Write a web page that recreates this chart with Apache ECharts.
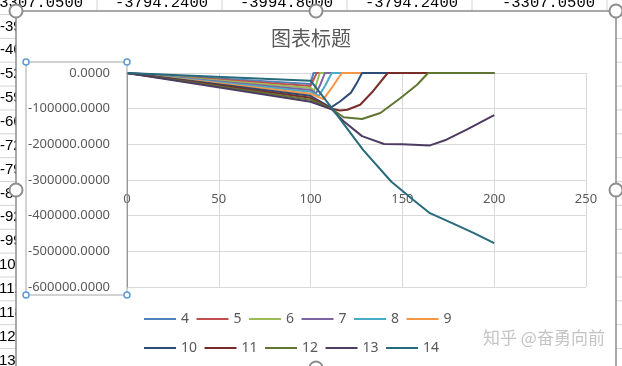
<!DOCTYPE html>
<html><head><meta charset="utf-8">
<script src="https://cdn.jsdelivr.net/npm/echarts@6/dist/echarts.min.js"></script>
<style>html,body{margin:0;padding:0;background:#fff}#c{width:622px;height:366px}</style>
</head><body><div id="c"></div>
<script>
// ---- data ----
const seriesNames = ['4','5','6','7','8','9','10','11','12','13','14'];
const s4  = [[0,0],[100,-30800],[101.5,0],[200,0]];
const s5  = [[0,0],[100,-36300],[101,-39000],[103.3,0],[200,0]];
const s6  = [[0,0],[100,-41800],[102,-49000],[105,0],[200,0]];
const s7  = [[0,0],[100,-47400],[103,-57000],[105.5,-30000],[107.8,0],[200,0]];
const s8  = [[0,0],[100,-52900],[104.5,-64000],[108,-35000],[111.5,0],[200,0]];
const s9  = [[0,0],[100,-58400],[107,-73000],[112,-38000],[117,0],[200,0]];
const s10 = [[0,0],[100,-63900],[111,-97000],[116,-80000],[122,-55000],[125.5,-25000],[128,0],[200,0]];
const s11 = [[0,0],[100,-69500],[111.5,-100000],[116,-105000],[120,-103000],[127,-89000],[134,-51000],[142,0],[200,0]];
const s12 = [[0,0],[100,-75000],[111.5,-101000],[118,-124000],[128,-129000],[138,-112000],[149,-70000],[158,-33000],[164,0],[200,0]];
const s13 = [[0,0],[100,-80500],[111.5,-102000],[118,-135000],[128,-177000],[140,-199000],[150,-200000],[165,-203000],[174,-187000],[185,-159000],[200,-118000]];
const s14 = [[0,0],[100,-21600],[111.5,-98000],[128.7,-216000],[144,-305000],[156,-356000],[165,-393000],[178,-423000],[189,-449000],[200,-477000]];
const seriesData = [s4,s5,s6,s7,s8,s9,s10,s11,s12,s13,s14];
const xTicks = [0,50,100,150,200,250];
const yTicks = [0,-100000,-200000,-300000,-400000,-500000,-600000];
const sheetTopRow = ['-3307.0500','-3794.2400','-3994.8000','-3794.2400','-3307.0500'];
const sheetLeftCol = ['-3960.0000','-4620.0000','-5280.0000','-5940.0000','-6600.0000','-7260.0000','-7920.0000','-8580.0000','-9240.0000','-9900.0000','-10560.0000','-11220.0000','-11880.0000','-12540.0000','-13200.0000'];
const titleText = '图表标题';
const watermark = '知乎 @奋勇向前';

// ---- styles ----
const colors = ['#4F81BD','#C0504D','#9BBB59','#8064A2','#4BACC6','#F79646','#2C4D75','#772C2A','#5F7530','#4D3B62','#276A7C'];
const grey = '#595959';
const numFont = 'Noto Sans';

const graphics = [];
// spreadsheet background
const rowTop = 14.5, rowH = 23.86;
for (let k = 0; k < 16; k++) {
  graphics.push({type:'line', z:-20, silent:true, shape:{x1:0,y1:rowTop+rowH*k,x2:622,y2:rowTop+rowH*k}, style:{stroke:'#d4d4d4',lineWidth:1}});
}
[97,222,347,472,607].forEach(x => graphics.push({type:'line', z:-20, silent:true, shape:{x1:x,y1:0,x2:x,y2:366}, style:{stroke:'#d4d4d4',lineWidth:1}}));
const topRight = [83,208,333,458,595];
sheetTopRow.forEach((t,i) => graphics.push({type:'text', z:-19, silent:true, x:topRight[i], y:2.5,
  style:{text:t, fill:'#000', font:'15.5px "Liberation Mono"', align:'right', verticalAlign:'middle'}}));
sheetLeftCol.forEach((t,i) => graphics.push({type:'text', z:-19, silent:true, x:t.length > 10 ? -6 : 0, y:26.4+rowH*i,
  style:{text:t, fill:'#000', font:'15px "Liberation Sans Narrow", "Liberation Sans"', align:'left', verticalAlign:'middle'}}));
// chart area
graphics.push({type:'rect', z:-5, silent:true, shape:{x:16,y:11,width:600,height:380}, style:{fill:'#fff', stroke:'#8c8c8c', lineWidth:1.5}});
// y-axis label selection box
graphics.push({type:'rect', z:50, silent:true, shape:{x:26,y:62,width:101,height:233}, style:{fill:null, stroke:'#a6a6a6', lineWidth:1}});
[[26,62],[127,62],[26,295],[127,295]].forEach(p => graphics.push({type:'circle', z:51, silent:true, shape:{cx:p[0],cy:p[1],r:3}, style:{fill:'#fff', stroke:'#5B9BD5', lineWidth:1.5}}));
// chart area handles
[[16,11],[316,11],[616,11],[16,190],[616,190],[316,368]].forEach(p => graphics.push({type:'circle', z:52, silent:true, shape:{cx:p[0],cy:p[1],r:6.5}, style:{fill:'#fff', stroke:'#8e8e8e', lineWidth:2}}));
// watermark
graphics.push({type:'text', z:53, silent:true, x:483, y:338, style:{text:watermark, fill:'#c4c4c4', font:'17px "Noto Sans CJK SC"', align:'left', verticalAlign:'middle'}});

const chart = echarts.init(document.getElementById('c'), null, {renderer:'canvas'});
const legendCommon = {
  orient:'horizontal', left:139, itemWidth:32, itemHeight:12, itemGap:7.5,
  icon:'path://M0,5 L32,5 L32,7 L0,7 Z',
  textStyle:{color:grey, fontSize:14, fontFamily:numFont, width:14}
};
chart.setOption({
  backgroundColor:'#fff',
  animation:false,
  color:colors,
  title:{text:titleText, left:266, top:23, textStyle:{color:grey, fontSize:20, fontWeight:'normal', fontFamily:'Noto Sans CJK SC'}},
  grid:{left:127, right:36, top:73, bottom:79, containLabel:false},
  legend:[
    Object.assign({}, legendCommon, {top:307, data:seriesNames.slice(0,6)}),
    Object.assign({}, legendCommon, {top:336, data:seriesNames.slice(6)})
  ],
  xAxis:{type:'value', min:xTicks[0], max:xTicks[xTicks.length-1], interval:xTicks[1]-xTicks[0],
    position:'bottom', offset:-102,
    axisLine:{show:false, onZero:false}, axisTick:{show:false},
    axisLabel:{color:grey, fontSize:13, fontFamily:numFont, margin:8},
    splitLine:{show:true, lineStyle:{color:'#d9d9d9', width:1}}},
  yAxis:{type:'value', min:yTicks[yTicks.length-1], max:yTicks[0], interval:yTicks[0]-yTicks[1],
    axisLine:{show:true, onZero:false, lineStyle:{color:'#868686', width:1}}, axisTick:{show:false},
    axisLabel:{color:grey, fontSize:13, fontFamily:numFont, margin:17, formatter:v => v.toFixed(4)},
    splitLine:{show:true, lineStyle:{color:'#d9d9d9', width:1}}},
  graphic:{elements:graphics},
  series: seriesNames.map((n,i) => ({
    name:n, type:'line', data:seriesData[i], symbol:'none', showSymbol:false,
    lineStyle:{width:2, color:colors[i]}, itemStyle:{color:colors[i]}
  }))
});
</script></body></html>
